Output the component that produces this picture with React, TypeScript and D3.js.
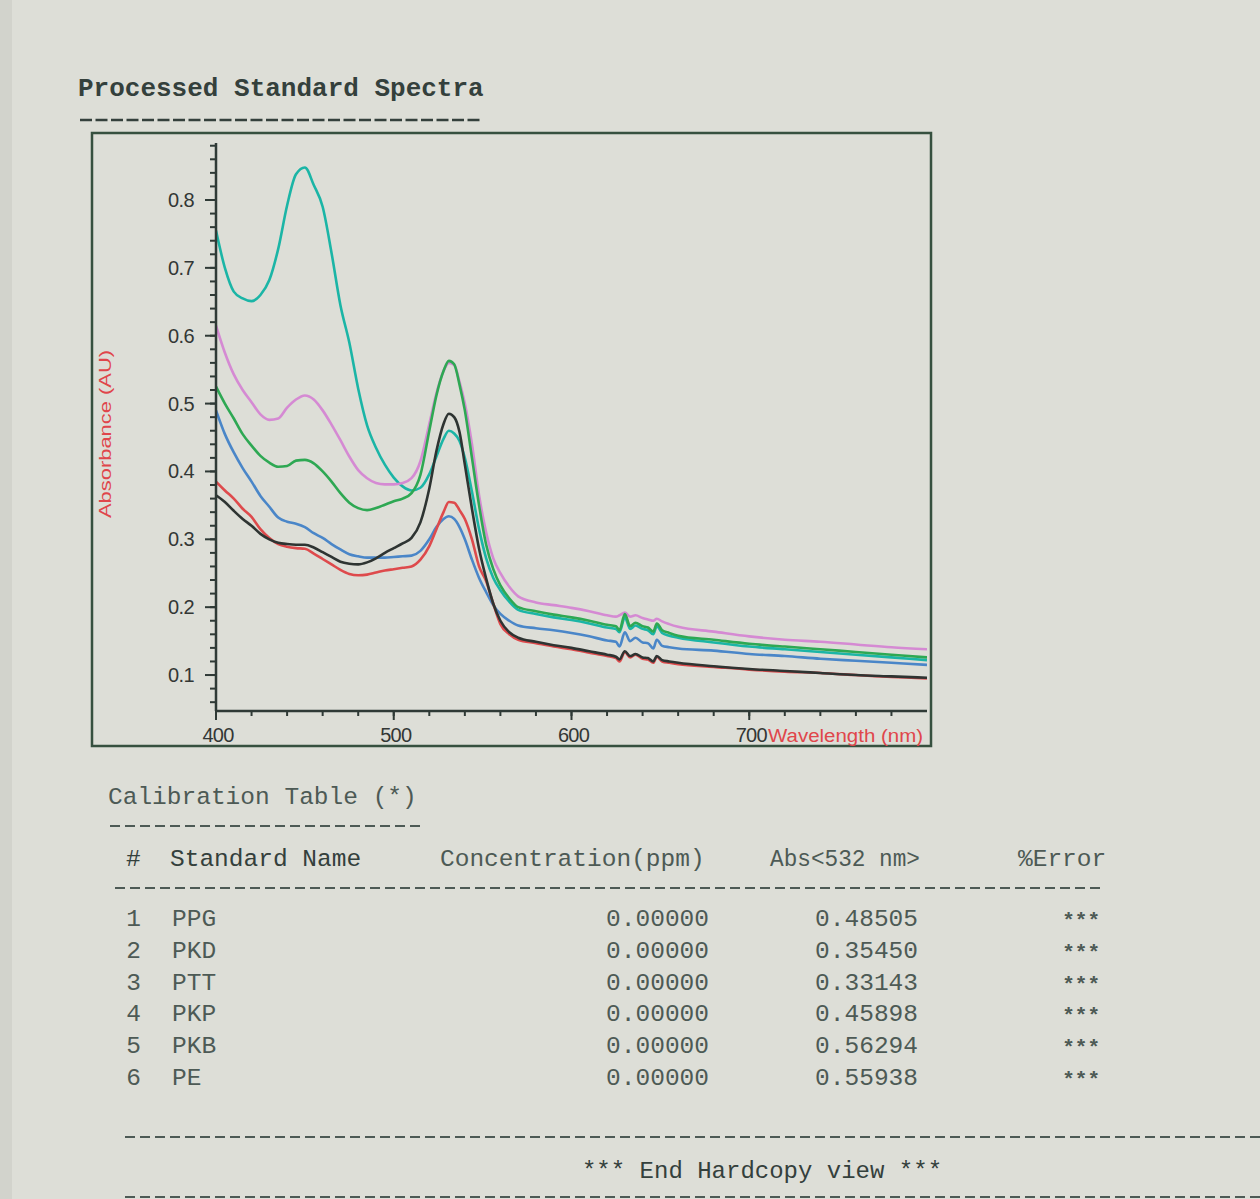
import React from 'react';
import * as d3 from 'd3';

// ---------- data ----------
const wavelengths = [
  400, 405, 410, 415, 420, 425, 430, 435, 440, 445,
  450, 455, 460, 465, 470, 475, 480, 485, 490, 495,
  500, 505, 510, 515, 520, 524, 528, 531, 534, 537,
  540, 544, 548, 552, 556, 560, 565, 570, 580, 590,
  600, 610, 620, 625, 627, 630, 633, 636, 640, 643,
  646, 648, 651, 655, 660, 680, 700, 720, 740, 760,
  780, 800,
];

const pkp = [
  0.755, 0.700, 0.665, 0.655, 0.651, 0.660, 0.682, 0.728, 0.792, 0.838,
  0.848, 0.822, 0.790, 0.722, 0.645, 0.590, 0.522, 0.468, 0.435, 0.410,
  0.391, 0.378, 0.372, 0.376, 0.396, 0.422, 0.448, 0.460, 0.456, 0.445,
  0.420, 0.370, 0.315, 0.272, 0.243, 0.225, 0.208, 0.196, 0.190, 0.185,
  0.181, 0.176, 0.170, 0.168, 0.163, 0.185, 0.168, 0.173, 0.168, 0.166,
  0.160, 0.172, 0.162, 0.158, 0.155, 0.148, 0.142, 0.138, 0.134, 0.130,
  0.126, 0.122,
];

const pe = [
  0.615, 0.575, 0.543, 0.520, 0.502, 0.484, 0.476, 0.478, 0.494, 0.506,
  0.512, 0.506, 0.490, 0.469, 0.446, 0.422, 0.402, 0.390, 0.383, 0.381,
  0.381, 0.383, 0.390, 0.415, 0.470, 0.515, 0.548, 0.560, 0.557, 0.532,
  0.500, 0.440, 0.365, 0.310, 0.272, 0.250, 0.230, 0.216, 0.207, 0.203,
  0.199, 0.194, 0.188, 0.186, 0.188, 0.192, 0.186, 0.188, 0.184, 0.182,
  0.180, 0.183, 0.179, 0.175, 0.171, 0.164, 0.157, 0.152, 0.149, 0.145,
  0.141, 0.138,
];

const pkb = [
  0.525, 0.500, 0.478, 0.455, 0.438, 0.423, 0.413, 0.407, 0.408, 0.416,
  0.417, 0.412, 0.400, 0.385, 0.368, 0.354, 0.346, 0.343, 0.346, 0.351,
  0.356, 0.360, 0.368, 0.395, 0.460, 0.512, 0.548, 0.563, 0.558, 0.528,
  0.490, 0.420, 0.350, 0.292, 0.256, 0.232, 0.213, 0.200, 0.194, 0.189,
  0.185, 0.180, 0.174, 0.172, 0.166, 0.190, 0.172, 0.177, 0.172, 0.170,
  0.164, 0.176, 0.166, 0.162, 0.158, 0.152, 0.146, 0.142, 0.138, 0.134,
  0.130, 0.126,
];

const ptt = [
  0.490, 0.455, 0.428, 0.405, 0.385, 0.364, 0.348, 0.332, 0.326, 0.323,
  0.318, 0.309, 0.302, 0.293, 0.285, 0.278, 0.275, 0.273, 0.273, 0.273,
  0.274, 0.275, 0.276, 0.283, 0.300, 0.318, 0.330, 0.334, 0.330, 0.318,
  0.300, 0.270, 0.243, 0.222, 0.203, 0.190, 0.180, 0.173, 0.169, 0.166,
  0.162, 0.157, 0.151, 0.149, 0.142, 0.163, 0.150, 0.155, 0.148, 0.147,
  0.139, 0.152, 0.143, 0.141, 0.139, 0.136, 0.131, 0.128, 0.124, 0.121,
  0.118, 0.115,
];

const pkd = [
  0.385, 0.372, 0.360, 0.345, 0.333, 0.315, 0.302, 0.293, 0.289, 0.287,
  0.286, 0.279, 0.271, 0.263, 0.255, 0.249, 0.247, 0.248, 0.251, 0.254,
  0.256, 0.258, 0.260, 0.270, 0.290, 0.315, 0.340, 0.355, 0.354, 0.343,
  0.330, 0.300, 0.260, 0.238, 0.205, 0.175, 0.160, 0.152, 0.147, 0.142,
  0.138, 0.133, 0.128, 0.125, 0.120, 0.134, 0.126, 0.130, 0.124, 0.123,
  0.118, 0.127, 0.120, 0.118, 0.116, 0.112, 0.108, 0.105, 0.103, 0.100,
  0.097, 0.095,
];

const ppg = [
  0.365, 0.355, 0.342, 0.330, 0.320, 0.308, 0.300, 0.295, 0.293, 0.292,
  0.292, 0.288, 0.281, 0.274, 0.267, 0.264, 0.263, 0.266, 0.272, 0.280,
  0.287, 0.294, 0.302, 0.325, 0.375, 0.430, 0.470, 0.485, 0.480, 0.458,
  0.410, 0.345, 0.286, 0.242, 0.205, 0.180, 0.163, 0.155, 0.149, 0.144,
  0.140, 0.135, 0.130, 0.127, 0.123, 0.135, 0.128, 0.131, 0.126, 0.125,
  0.120, 0.128, 0.122, 0.120, 0.118, 0.113, 0.109, 0.106, 0.103, 0.100,
  0.098, 0.096,
];

const seriesOrder = ['PKP', 'PE', 'PTT', 'PKD', 'PPG', 'PKB'];
const seriesValues: Record<string, number[]> = { PPG: ppg, PKD: pkd, PTT: ptt, PKP: pkp, PKB: pkb, PE: pe };
const seriesColors: Record<string, string> = {
  PPG: '#2e3432',
  PKD: '#de4a4c',
  PTT: '#4a86c8',
  PKP: '#1bb5a6',
  PKB: '#2ea853',
  PE: '#d58ad3',
};

const yTicks = [0.1, 0.2, 0.3, 0.4, 0.5, 0.6, 0.7, 0.8];
const xTicks = [400, 500, 600, 700];

const tableIndex = ['1', '2', '3', '4', '5', '6'];
const tableNames = ['PPG', 'PKD', 'PTT', 'PKP', 'PKB', 'PE'];
const tableConc = ['0.00000', '0.00000', '0.00000', '0.00000', '0.00000', '0.00000'];
const tableAbs = ['0.48505', '0.35450', '0.33143', '0.45898', '0.56294', '0.55938'];
const tableErr = ['***', '***', '***', '***', '***', '***'];

// ---------- layout ----------
const W = 1260;
const H = 1199;
const plot = { left: 216, right: 927, top: 143, bottom: 711 };
const frame = { left: 92, top: 133, right: 931, bottom: 746 };
const MONO = '"Liberation Mono", "DejaVu Sans Mono", monospace';
const SANS = '"Liberation Sans", Arial, sans-serif';
const INK = '#34403c';
const TABLE_INK = '#4d5a55';

export default function App() {
  const x = d3.scaleLinear().domain([400, 800]).range([plot.left, plot.right]);
  const y = d3.scaleLinear().domain([0.047, 0.884]).range([plot.bottom, plot.top]);

  const line = d3
    .line<number>()
    .x((_, i) => x(wavelengths[i]))
    .y((d) => y(d))
    .curve(d3.curveMonotoneX);

  const yMinor = d3.range(0.06, 0.881, 0.02).map((v) => Math.round(v * 100) / 100);
  const xMinor = d3.range(420, 800, 20);

  const rowY = (i: number) => 926 + i * 31.8;

  return (
    <svg
      width={W}
      height={H}
      viewBox={`0 0 ${W} ${H}`}
      style={{ position: 'absolute', left: 0, top: 0, display: 'block' }}
    >
      <defs>
        <clipPath id="plotClip">
          <rect x={plot.left} y={plot.top} width={plot.right - plot.left} height={plot.bottom - plot.top} />
        </clipPath>
      </defs>
      <rect x={0} y={0} width={W} height={H} fill="#dddeD7" />
      <rect x={0} y={0} width={12} height={H} fill="#d2d3cc" />

      {/* Title */}
      <text x={78} y={96} fontFamily={MONO} fontSize={26} fontWeight="bold" fill={INK}>
        Processed Standard Spectra
      </text>
      <line x1={80} x2={483} y1={120} y2={120} stroke={INK} strokeWidth={2.5} strokeDasharray="12 3.5" />

      {/* Outer frame */}
      <rect
        x={frame.left}
        y={frame.top}
        width={frame.right - frame.left}
        height={frame.bottom - frame.top}
        fill="none"
        stroke="#36503f"
        strokeWidth={2.5}
      />

      {/* Curves */}
      <g clipPath="url(#plotClip)">
        {seriesOrder.map((name) => (
          <path
            key={name}
            d={line(seriesValues[name]) || ''}
            fill="none"
            stroke={seriesColors[name]}
            strokeWidth={2.6}
            strokeLinejoin="round"
          />
        ))}
      </g>

      {/* Y axis */}
      <line x1={plot.left} x2={plot.left} y1={plot.top} y2={plot.bottom} stroke="#2f3a36" strokeWidth={2.5} />
      {yMinor.map((v) => (
        <line key={`ym${v}`} x1={plot.left - 6} x2={plot.left} y1={y(v)} y2={y(v)} stroke="#2f3a36" strokeWidth={2} />
      ))}
      {yTicks.map((v) => (
        <g key={`yt${v}`}>
          <line x1={plot.left - 11} x2={plot.left} y1={y(v)} y2={y(v)} stroke="#2f3a36" strokeWidth={2} />
          <text
            x={plot.left - 22}
            y={y(v) + 7}
            textAnchor="end"
            fontFamily={SANS}
            fontSize={20}
            fill="#333735"
            letterSpacing={-0.6}
          >
            {d3.format('.1f')(v)}
          </text>
        </g>
      ))}

      {/* X axis */}
      <line x1={plot.left} x2={plot.right} y1={plot.bottom} y2={plot.bottom} stroke="#2f3a36" strokeWidth={2.5} />
      {xMinor.map((v) => (
        <line key={`xm${v}`} x1={x(v)} x2={x(v)} y1={plot.bottom} y2={plot.bottom + 5} stroke="#2f3a36" strokeWidth={2} />
      ))}
      {xTicks.map((v) => (
        <g key={`xt${v}`}>
          <line x1={x(v)} x2={x(v)} y1={plot.bottom} y2={plot.bottom + 9} stroke="#2f3a36" strokeWidth={2} />
          <text
            x={x(v) + 2}
            y={742}
            textAnchor="middle"
            fontFamily={SANS}
            fontSize={20}
            fill="#333735"
            letterSpacing={-0.8}
          >
            {v}
          </text>
        </g>
      ))}
      <text
        x={768}
        y={742}
        fontFamily={SANS}
        fontSize={18}
        fill="#e0464b"
        textLength={155}
        lengthAdjust="spacingAndGlyphs"
      >
        Wavelength (nm)
      </text>
      <text
        transform="translate(111,434) rotate(-90)"
        textAnchor="middle"
        fontFamily={SANS}
        fontSize={17}
        fill="#e0464b"
        textLength={168}
        lengthAdjust="spacingAndGlyphs"
      >
        Absorbance (AU)
      </text>

      {/* Calibration table */}
      <text x={108} y={804} fontFamily={MONO} fontSize={24.5} fill={TABLE_INK}>
        Calibration Table (*)
      </text>
      <line x1={110} x2={420} y1={826} y2={826} stroke={TABLE_INK} strokeWidth={2} strokeDasharray="10 5" />

      <g fontFamily={MONO} fontSize={24.5} fill={INK}>
        <text x={126} y={866}>#</text>
        <text x={170} y={866}>Standard Name</text>
        <text x={440} y={866} fill={TABLE_INK}>Concentration(ppm)</text>
        <text x={770} y={866} fill={TABLE_INK} textLength={150} lengthAdjust="spacingAndGlyphs">Abs&lt;532 nm&gt;</text>
        <text x={1018} y={866} fill={TABLE_INK}>%Error</text>
      </g>
      <line x1={115} x2={1105} y1={888} y2={888} stroke={TABLE_INK} strokeWidth={2} strokeDasharray="10 5" />

      <g fontFamily={MONO} fontSize={24.5} fill={TABLE_INK}>
        {tableNames.map((n, i) => (
          <g key={n}>
            <text x={141} y={rowY(i)} textAnchor="end">{tableIndex[i]}</text>
            <text x={172} y={rowY(i)}>{n}</text>
            <text x={709} y={rowY(i)} textAnchor="end">{tableConc[i]}</text>
            <text x={918} y={rowY(i)} textAnchor="end">{tableAbs[i]}</text>
            <text x={1100} y={rowY(i) + 1} textAnchor="end" fontSize={21} fontWeight="bold">{tableErr[i]}</text>
          </g>
        ))}
      </g>

      <line x1={125} x2={1260} y1={1137} y2={1137} stroke={TABLE_INK} strokeWidth={2} strokeDasharray="10 5" />
      <text x={762} y={1178} textAnchor="middle" fontFamily={MONO} fontSize={24} fill={INK}>
        *** End Hardcopy view ***
      </text>
      <line x1={125} x2={1260} y1={1197} y2={1197} stroke={TABLE_INK} strokeWidth={2} strokeDasharray="10 5" />
    </svg>
  );
}
